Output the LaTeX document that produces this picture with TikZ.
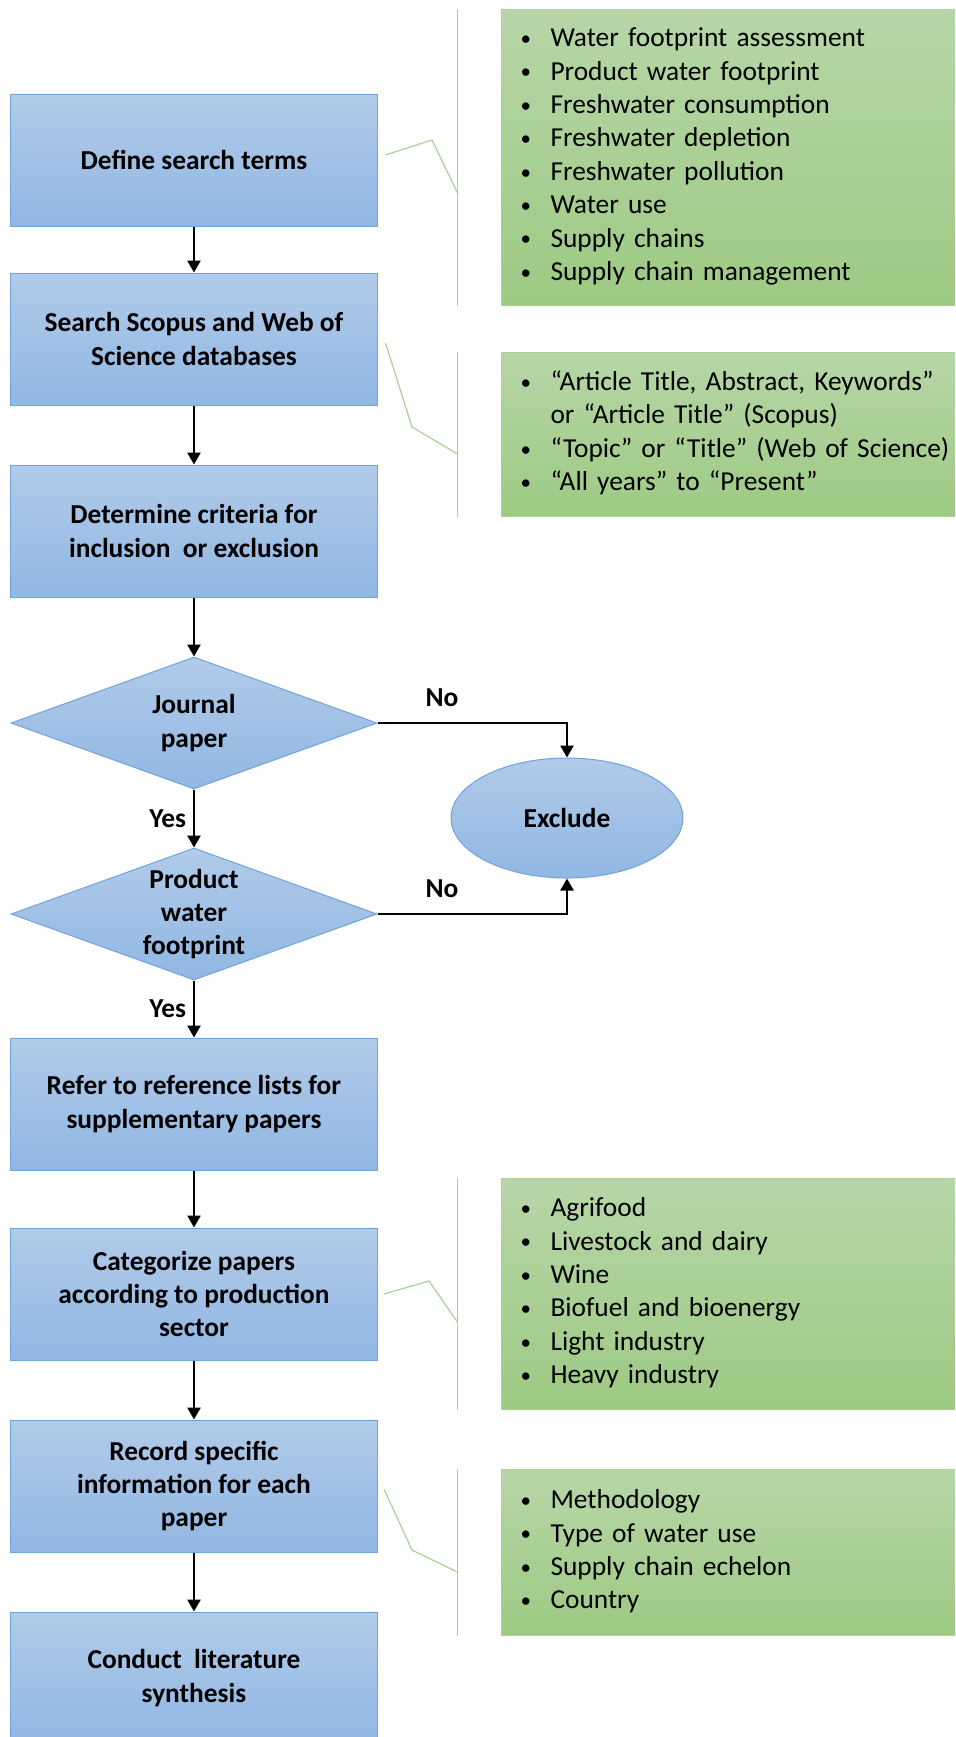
\documentclass[tikz,border=0pt]{standalone}
\usepackage{fontspec}
\setmainfont{Carlito}
\usetikzlibrary{shapes.geometric, arrows.meta}

\definecolor{boxtop}{RGB}{177,203,233}
\definecolor{boxbottom}{RGB}{145,183,227}
\definecolor{boxline}{RGB}{112,162,220}
\definecolor{notetop}{RGB}{183,214,168}
\definecolor{notebottom}{RGB}{157,202,131}
\definecolor{noteline}{RGB}{170,210,144}

\newcommand{\figfont}{\fontsize{13.7}{16.7}\selectfont}
\newcommand{\listdot}{\makebox[16pt][l]{\hspace{1pt}\raisebox{0.6pt}{\fontsize{10.5}{10.5}\selectfont\textbullet}}}

\begin{document}
\begin{tikzpicture}[x = 0.5pt, y = -0.5pt,
  flowbox/.style = {draw = boxline, line width = 0.5pt, top color = boxtop, bottom color = boxbottom,
    minimum width = 183.5pt, minimum height = 66pt, align = center, font = \figfont\bfseries},
  decision/.style = {flowbox, diamond, minimum width = 183pt, minimum height = 66pt, inner sep = 0pt},
  stopper/.style = {flowbox, ellipse, minimum width = 116pt, minimum height = 60pt, inner sep = 0pt},
  note/.style = {draw = noteline, line width = 0.5pt, top color = notetop, bottom color = notebottom,
    anchor = west, inner xsep = 8.5pt, inner ysep = 0pt, text width = 213pt, align = left, font = \figfont},
  callout/.style = {draw = noteline, line width = 0.6pt},
  flow/.style = {-{Triangle[width = 6.5pt, length = 6pt]}, line width = 1.3pt},
  answer/.style = {font = \figfont\bfseries}]

  \useasboundingbox (0, 0) rectangle (955, 1737);
  \clip (0, 0) rectangle (955, 1737);

  \node[flowbox] (b1) at (194, 160) {Define search terms};
  \node[flowbox] (b2) at (194, 339) {Search Scopus and Web of\\Science databases};
  \node[flowbox] (b3) at (194, 531) {Determine criteria for\\inclusion ~or exclusion};
  \node[decision, label = {[font = \figfont\bfseries, align = center]center:Journal\\paper}] (d1) at (194, 723) {};
  \node[decision, label = {[font = \figfont\bfseries, align = center]center:Product\\water\\footprint}] (d2) at (194, 914) {};
  \node[stopper] (ex) at (567, 818) {Exclude};
  \node[flowbox] (b4) at (194, 1104) {Refer to reference lists for\\supplementary papers};
  \node[flowbox] (b5) at (194, 1294) {Categorize papers\\according to production\\sector};
  \node[flowbox] (b6) at (194, 1486) {Record specific\\information for each\\paper};
  \node[flowbox] (b7) at (194, 1678) {Conduct ~literature\\synthesis};

  \node[note, minimum height = 148pt] (g1) at (501, 157) {%
    \begin{tabular}{@{}l@{}l@{}}
      \listdot & Water footprint assessment\\
      \listdot & Product water footprint\\
      \listdot & Freshwater consumption\\
      \listdot & Freshwater depletion\\
      \listdot & Freshwater pollution\\
      \listdot & Water use\\
      \listdot & Supply chains\\
      \listdot & Supply chain management
    \end{tabular}};
  \node[note, minimum height = 82pt] (g2) at (501, 434) {%
    \begin{tabular}{@{}l@{}l@{}}
      \listdot & “Article Title, Abstract, Keywords”\\
               & or “Article Title” (Scopus)\\
      \listdot & “Topic” or “Title” (Web of Science)\\
      \listdot & “All years” to “Present”
    \end{tabular}};
  \node[note, minimum height = 115.5pt] (g3) at (501, 1293.5) {%
    \begin{tabular}{@{}l@{}l@{}}
      \listdot & Agrifood\\
      \listdot & Livestock and dairy\\
      \listdot & Wine\\
      \listdot & Biofuel and bioenergy\\
      \listdot & Light industry\\
      \listdot & Heavy industry
    \end{tabular}};
  \node[note, minimum height = 83pt] (g4) at (501, 1552) {%
    \begin{tabular}{@{}l@{}l@{}}
      \listdot & Methodology\\
      \listdot & Type of water use\\
      \listdot & Supply chain echelon\\
      \listdot & Country
    \end{tabular}};

  \coordinate (k1) at (432, 140);
  \coordinate (e1) at (457.5, 193);
  \coordinate (k2) at (412, 427);
  \coordinate (e2) at (457.5, 454);
  \coordinate (k3) at (429, 1281);
  \coordinate (e3) at (457.5, 1322);
  \coordinate (k4) at (412, 1550);
  \coordinate (e4) at (457.5, 1572);

  \draw[callout] ([xshift = -21.75pt]g1.north west) -- ([xshift = -21.75pt]g1.south west);
  \draw[callout] ([xshift = -21.75pt]g2.north west) -- ([xshift = -21.75pt]g2.south west);
  \draw[callout] ([xshift = -21.75pt]g3.north west) -- ([xshift = -21.75pt]g3.south west);
  \draw[callout] ([xshift = -21.75pt]g4.north west) -- ([xshift = -21.75pt]g4.south west);
  \draw[callout] ([xshift = 3.75pt, yshift = 2.5pt]b1.east) -- (k1) -- (e1);
  \draw[callout] ([xshift = 3.75pt, yshift = -2pt]b2.east) -- (k2) -- (e2);
  \draw[callout] ([xshift = 3pt]b5.east) -- (k3) -- (e3);
  \draw[callout] ([xshift = 3pt, yshift = -1.5pt]b6.east) -- (k4) -- (e4);

  \draw[flow] (b1) -- (b2);
  \draw[flow] (b2) -- (b3);
  \draw[flow] (b3) -- (d1);
  \draw[flow] (d1) -- (d2) node[midway, left, answer] {Yes};
  \draw[flow] (d2) -- (b4) node[midway, left, answer] {Yes};
  \draw[flow] (d1.east) -| (ex.north) node[pos = 0.17, above = 4pt, answer] {No};
  \draw[flow] (d2.east) -| (ex.south) node[pos = 0.17, above = 4pt, answer] {No};
  \draw[flow] (b4) -- (b5);
  \draw[flow] (b5) -- (b6);
  \draw[flow] (b6) -- (b7);

\end{tikzpicture}
\end{document}
